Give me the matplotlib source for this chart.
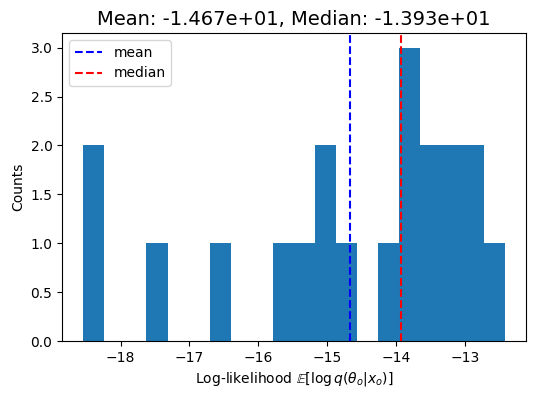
import numpy as np
import matplotlib
matplotlib.use('Agg')
import matplotlib.pyplot as plt


# log-likelihood samples (20 samples, 20 bins)
log_likelihood = [
    -18.54, -18.30,
    -17.50,
    -16.55,
    -15.60, -15.30,
    -15.05, -14.95,
    -14.72,
    -13.98,
    -13.88, -13.80, -13.70,
    -13.53, -13.40,
    -13.25, -13.10,
    -12.95, -12.85,
    -12.43,
]
n_bins = 20

data = np.array(log_likelihood)
mean = np.mean(data)
median = np.median(data)

fig = plt.figure(figsize=(5.36, 3.98), dpi=100)
ax = fig.add_subplot(111)
fig.subplots_adjust(left=0.116, right=0.981, bottom=0.143, top=0.917)

ax.hist(data, bins=n_bins)
ax.axvline(mean, color='b', linestyle='--', label='mean')
ax.axvline(median, color='r', linestyle='--', label='median')
ax.set_title('Mean: {:.3e}, Median: {:.3e}'.format(mean, median), fontsize=14)
ax.set_xlabel(r'Log-likelihood $\mathbb{E}[\log q(\theta_o | x_o)]$')
ax.set_ylabel('Counts')
ax.legend(loc='upper left')

fig.savefig('out.png', dpi=100)
